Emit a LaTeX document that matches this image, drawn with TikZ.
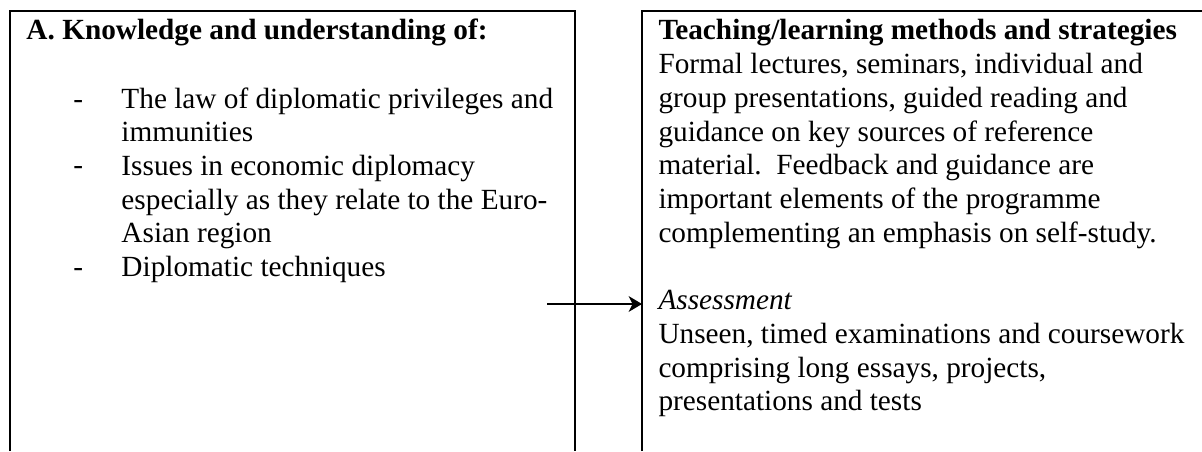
\documentclass[tikz,border=0pt]{standalone}
\usepackage{fontspec}
\setmainfont{Liberation Serif}
\usetikzlibrary{arrows.meta}
\tikzstyle{every node}=[anchor=base west,inner sep=0pt,font=\fontsize{12}{13.8}\selectfont]
\tikzstyle{column}=[line width=0.8pt]
\tikzstyle{link}=[line width=0.55pt,-{Stealth[length=5.5pt,width=6.5pt,inset=1.6pt]}]

\begin{document}
\begin{tikzpicture}[x=0.41pt,y=-0.41pt]
  \useasboundingbox (0,0) rectangle (1202,451);
  % the two columns, open at the bottom
  \draw[column] (10,451) |- (575,11) -- (575,451);
  \draw[column] (642,451) |- (1202,11);
  % left column
  \node (knowhead) at (26,40) {\textbf{A. Knowledge and understanding of:}};
  \foreach \y/\name in {108/lawdash,175/issuedash,276/techdash}
    \node (\name) at (73,\y) {-};
  \foreach \txt [count=\i] in {{The law of diplomatic privileges and},
      {immunities},{Issues in economic diplomacy},
      {especially as they relate to the Euro-},{Asian region},
      {Diplomatic techniques}}
    \node (know\i) at (121,{108+33.7*(\i-1)}) {\txt};
  % right column
  \foreach \txt [count=\i] in {{\textbf{Teaching/learning methods and strategies}},
      {Formal lectures, seminars, individual and},
      {group presentations, guided reading and},
      {guidance on key sources of reference},
      {material.\ \ Feedback and guidance are},
      {important elements of the programme},
      {complementing an emphasis on self-study.}}
    \node (teach\i) at (658,{40+33.7*(\i-1)}) {\txt};
  \foreach \txt [count=\i] in {{\textit{Assessment}},
      {Unseen, timed examinations and coursework},
      {comprising long essays, projects,},
      {presentations and tests}}
    \node (assess\i) at (658,{309.6+33.7*(\i-1)}) {\txt};
  % arrow into the assessment part
  \coordinate (arrowfrom) at (547,304);
  \coordinate (arrowto) at (642,304);
  \draw[link] (arrowfrom) -- (arrowto);
\end{tikzpicture}
\end{document}
